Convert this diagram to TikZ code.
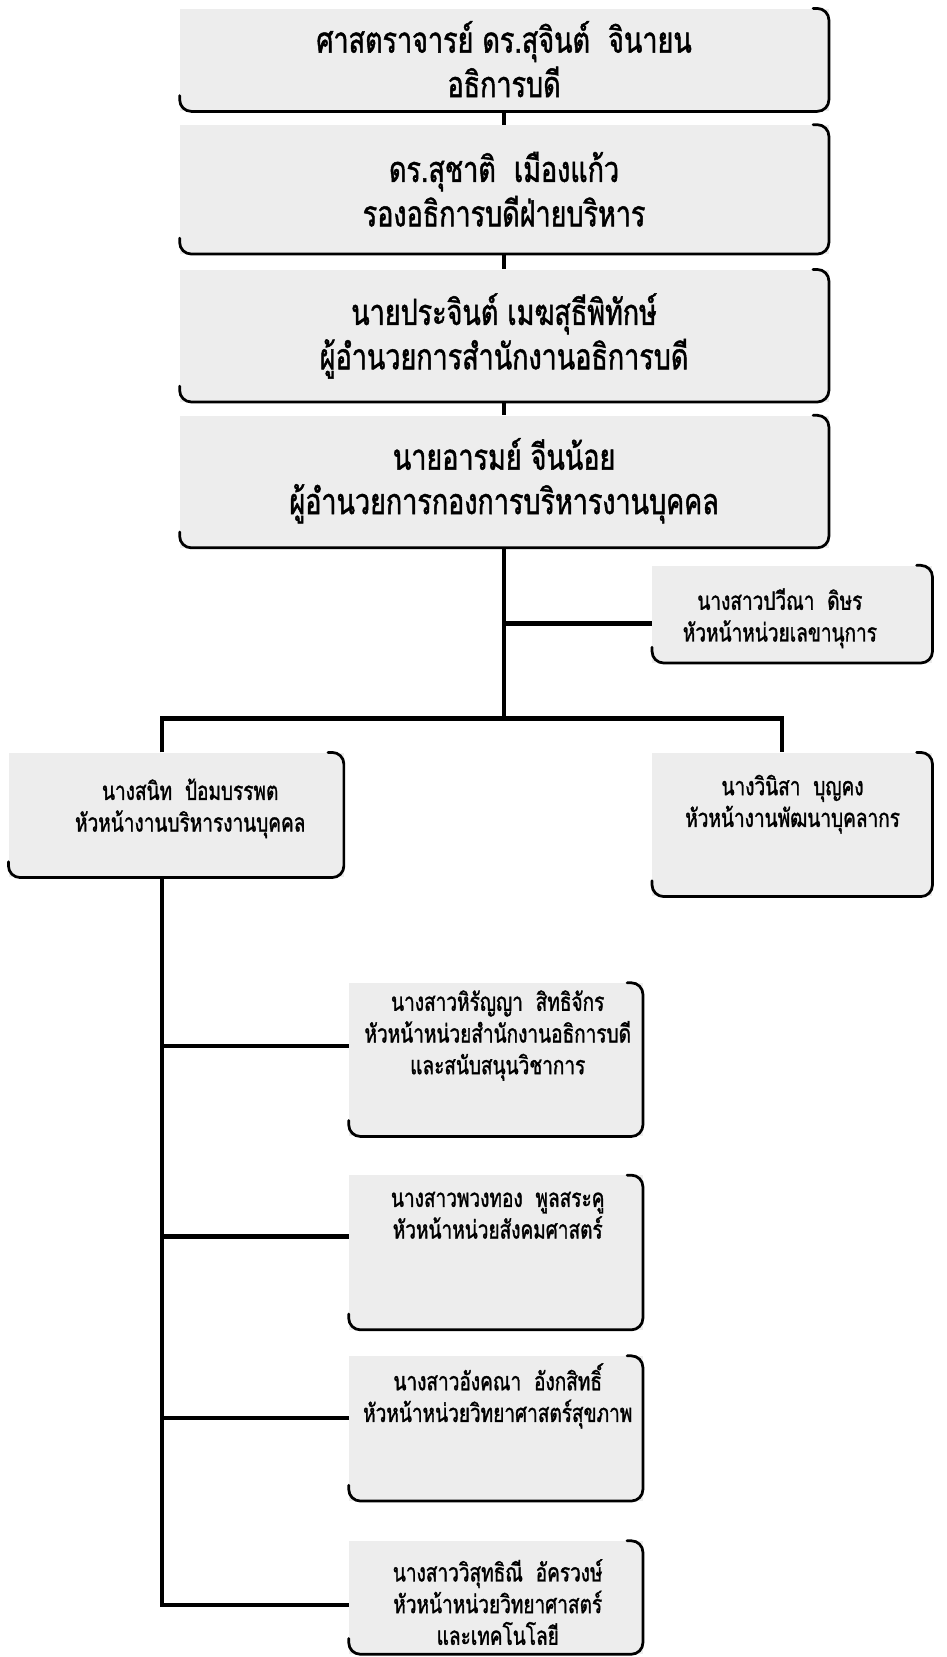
\documentclass[tikz,border=0pt]{standalone}
\usepackage{fontspec}
\newfontfamily\thai[Script=Thai,FakeStretch=0.75,FakeBold=1.3]{Loma}
\tikzset{
  box/.style={rectangle, draw=none, fill=black!7, inner sep=0pt, anchor=north west},
  boxrim/.style={line width=2.6pt, rounded corners=11pt, line cap=round},
  conn/.style={line width=4pt},
  bigtxt/.style={font=\thai\fontsize{34}{42}\selectfont, align=center, inner sep=0pt},
  smalltxt/.style={font=\thai\fontsize{24}{30}\selectfont, align=center, inner sep=0pt},
}
\newcommand\rimof[1]{\draw[boxrim] ([yshift=15pt]#1.south west) -- (#1.south west) -- (#1.south east) -- (#1.north east) -- ([xshift=-15pt]#1.north east);}
\begin{document}
\begin{tikzpicture}[x=1pt,y=-1pt]
\fill[white] (0,0) rectangle (896,1568);
\useasboundingbox (0,0) rectangle (896,1568);
% top chain
\node[box, minimum width=614pt, minimum height=97pt] (b1) at (170,8) {};
\node[box, minimum width=614pt, minimum height=122pt] (b2) at (170,118) {};
\node[box, minimum width=614pt, minimum height=125pt] (b3) at (170,255) {};
\node[box, minimum width=614pt, minimum height=125pt] (b4) at (170,393) {};
% side boxes
\node[box, minimum width=265pt, minimum height=92pt] (pv) at (617,535) {};
\node[box, minimum width=317pt, minimum height=118pt] (sn) at (8,712) {};
\node[box, minimum width=265pt, minimum height=136pt] (vn) at (617,712) {};
% lower boxes
\node[box, minimum width=278pt, minimum height=145pt] (s1) at (330,930) {};
\node[box, minimum width=278pt, minimum height=146pt] (s2) at (330,1112) {};
\node[box, minimum width=278pt, minimum height=137pt] (s3) at (330,1283) {};
\node[box, minimum width=278pt, minimum height=107pt] (s4) at (330,1458) {};
\foreach \n in {b1,b2,b3,b4,pv,sn,vn,s1,s2,s3,s4} {\rimof{\n}}
% texts
\node[bigtxt] (t1) at (477,56) {ศาสตราจารย์ ดร.สุจินต์~ จินายน\\อธิการบดี};
\node[bigtxt] (t2) at (477,179) {ดร.สุชาติ~ เมืองแก้ว\\รองอธิการบดีฝ่ายบริหาร};
\node[bigtxt] (t3) at (477,318) {นายประจินต์ เมฆสุธีพิทักษ์\\ผู้อำนวยการสำนักงานอธิการบดี};
\node[bigtxt] (t4) at (477,455) {นายอารมย์ จีนน้อย\\ผู้อำนวยการกองการบริหารงานบุคคล};
\node[smalltxt] (t5) at (738,585) {นางสาวปวีณา~ ดิษร\\หัวหน้าหน่วยเลขานุการ};
\node[smalltxt] (t6) at (180,765) {นางสนิท~ ป้อมบรรพต\\หัวหน้างานบริหารงานบุคคล};
\node[smalltxt] (t7) at (750,761) {นางวินิสา~ บุญคง\\หัวหน้างานพัฒนาบุคลากร};
\node[smalltxt] (t8) at (471,980) {นางสาวหิรัญญา~ สิทธิจักร\\หัวหน้าหน่วยสำนักงานอธิการบดี\\และสนับสนุนวิชาการ};
\node[smalltxt] (t9) at (471,1150) {นางสาวพวงทอง~ พูลสระคู\\หัวหน้าหน่วยสังคมศาสตร์};
\node[smalltxt] (t10) at (471,1321) {นางสาวอังคณา~ อังกสิทธิ์\\หัวหน้าหน่วยวิทยาศาสตร์สุขภาพ};
\node[smalltxt] (t11) at (471,1516) {นางสาววิสุทธิณี~ อัครวงษ์\\หัวหน้าหน่วยวิทยาศาสตร์\\และเทคโนโลยี};
% connectors
\coordinate (j1) at (477,590);
\coordinate (lt) at (153,680);
\coordinate (rt) at (740,680);
\coordinate (k1) at (153,990);
\coordinate (k2) at (153,1170);
\coordinate (k3) at (153,1342);
\coordinate (k4) at (153,1519);
\draw[conn] (b1.south) -- (b2.north);
\draw[conn] (b2.south) -- (b3.north);
\draw[conn] (b3.south) -- (b4.north);
\draw[conn] (b4.south) -- (b4.south |- lt);
\draw[conn] (j1) -- (j1 -| pv.west);
\draw[conn] (lt |- sn.north) -- (lt) -- (rt) -- (rt |- vn.north);
\draw[conn] (lt |- sn.south) -- (k4) -- (k4 -| s4.west);
\draw[conn] (k1) -- (k1 -| s1.west);
\draw[conn] (k2) -- (k2 -| s2.west);
\draw[conn] (k3) -- (k3 -| s3.west);
\end{tikzpicture}
\end{document}
